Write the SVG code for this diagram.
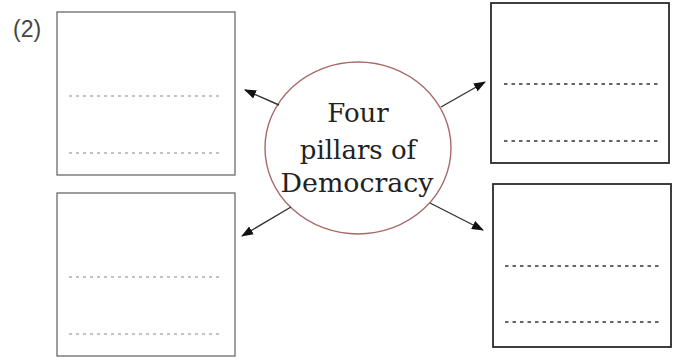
<svg xmlns="http://www.w3.org/2000/svg" width="677" height="360" viewBox="0 0 677 360">
<style>
.box{fill:#fff;stroke:#6a6a6a;stroke-width:1.3}
.boxd{fill:#fff;stroke:#2a2a2a;stroke-width:1.8}
.dl{stroke:#888;stroke-width:1.2;stroke-dasharray:3 4}
.dd{stroke:#333;stroke-width:1.6;stroke-dasharray:3.5 4}
.arr{stroke:#333;stroke-width:1.4;fill:none;marker-end:url(#ah)}
.t{font-family:"DejaVu Serif","Liberation Serif",serif;fill:#222;text-anchor:middle}
</style>
<defs>
<marker id="ah" viewBox="0 0 12 10" refX="11" refY="5" markerWidth="12" markerHeight="10" markerUnits="userSpaceOnUse" orient="auto">
<path d="M0,0.5 L12,5 L0,9.5 Z" fill="#111"/>
</marker>
</defs>
<rect width="677" height="360" fill="#fff"/>
<text x="13" y="37" style="font-family:'Liberation Sans',sans-serif;font-size:23px;fill:#444">(2)</text>
<g id="box-tl">
<rect class="box" x="57" y="12" width="178" height="163"/>
<line class="dl" x1="69" y1="96" x2="223" y2="96"/>
<line class="dl" x1="69" y1="153" x2="223" y2="153"/>
</g>
<g id="box-bl">
<rect class="box" x="57" y="193" width="178" height="163"/>
<line class="dl" x1="69" y1="277" x2="223" y2="277"/>
<line class="dl" x1="69" y1="334" x2="223" y2="334"/>
</g>
<g id="box-tr">
<rect class="boxd" x="491" y="3" width="178" height="160"/>
<line class="dd" x1="504" y1="84" x2="660" y2="84"/>
<line class="dd" x1="504" y1="141" x2="660" y2="141"/>
</g>
<g id="box-br">
<rect class="boxd" x="493" y="184" width="178" height="163"/>
<line class="dd" x1="505" y1="266" x2="662" y2="266"/>
<line class="dd" x1="505" y1="322" x2="662" y2="322"/>
</g>
<g id="center">
<ellipse cx="358" cy="148" rx="93" ry="86" fill="#fff" stroke="#a8696a" stroke-width="1.4"/>
<text class="t" x="358" y="122" font-size="26">Four</text>
<text class="t" x="358" y="159" font-size="26">pillars of</text>
<text class="t" x="357" y="192" font-size="26" textLength="153" lengthAdjust="spacingAndGlyphs">Democracy</text>
</g>
<g id="connectors">
<line class="arr" x1="279" y1="105" x2="245" y2="90"/>
<line class="arr" x1="441" y1="107" x2="485" y2="82"/>
<line class="arr" x1="291" y1="207" x2="242" y2="236"/>
<line class="arr" x1="430" y1="203" x2="483" y2="230"/>
</g>
</svg>
